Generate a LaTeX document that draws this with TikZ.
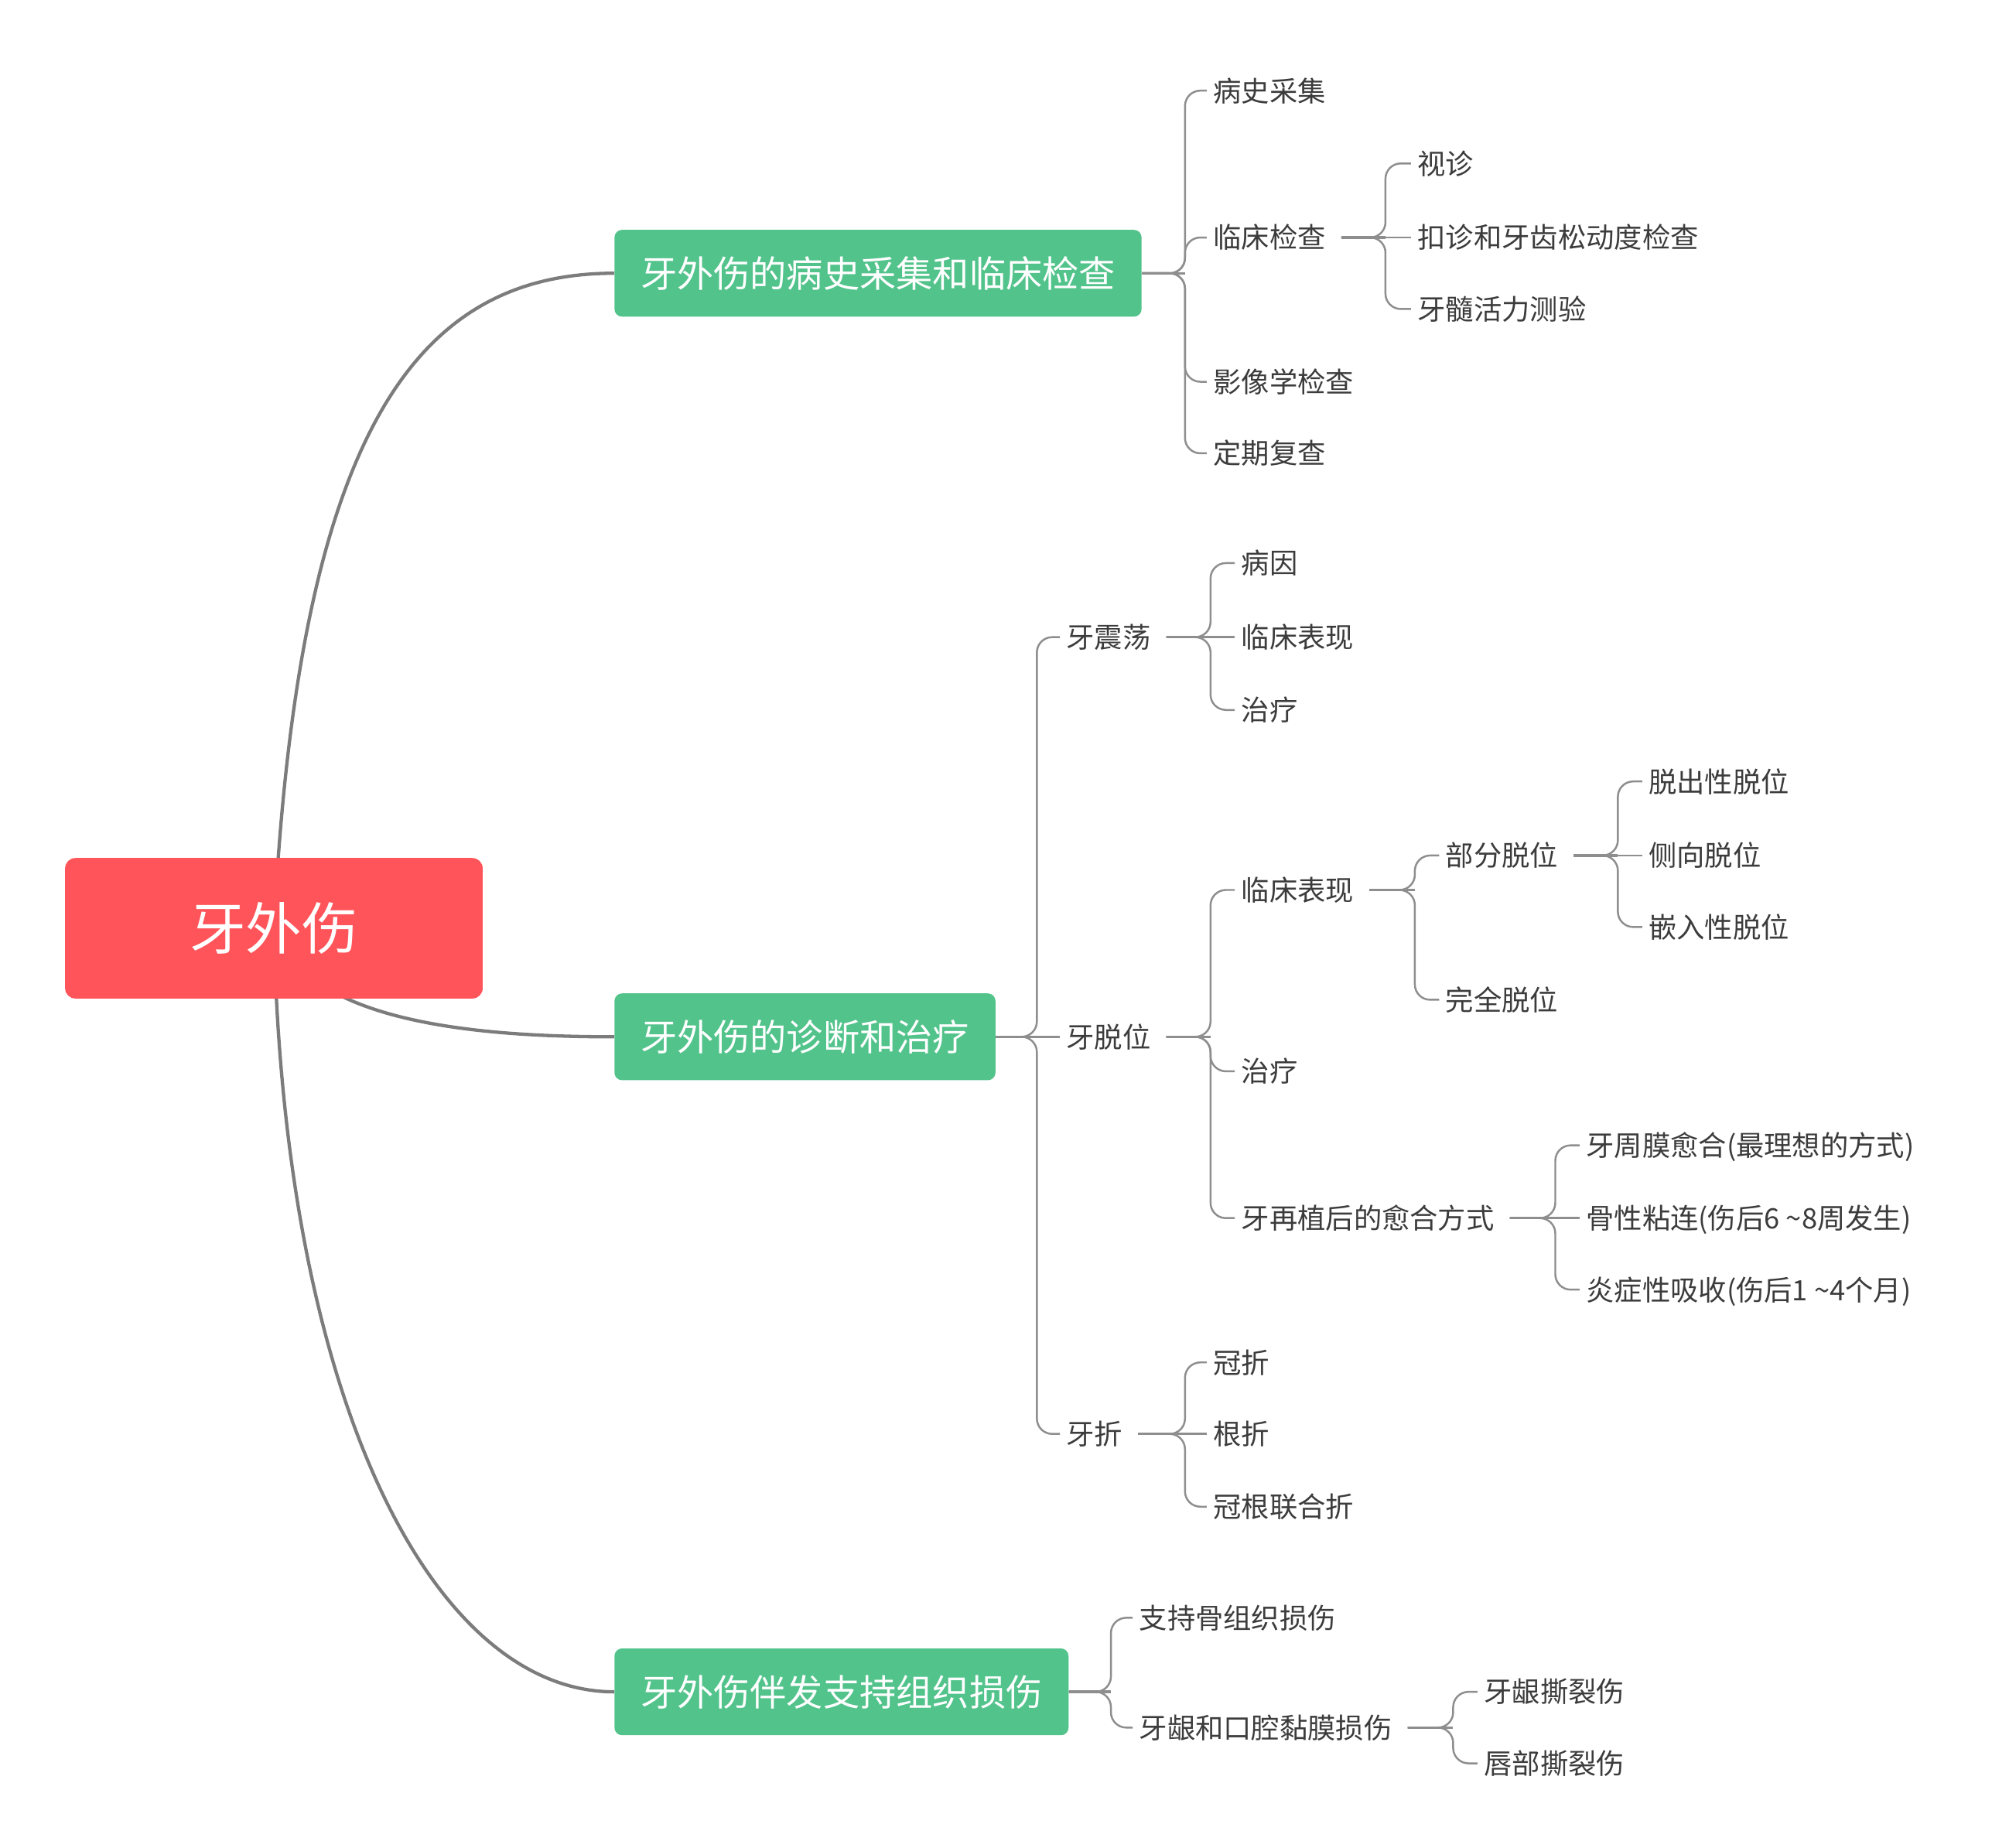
\documentclass[tikz,border=0pt]{standalone}
\usepackage{fontspec}
\setmainfont{Noto Sans CJK SC}
\usetikzlibrary{backgrounds}
\definecolor{redfill}{HTML}{FF545A}
\definecolor{greenfill}{HTML}{52C38B}
\definecolor{txtc}{HTML}{3C3C3C}
\definecolor{mainline}{HTML}{7C7C7C}
\definecolor{linkline}{HTML}{8E8E8E}
\tikzset{
  txt/.style={font=\fontsize{22}{26}\selectfont, text=txtc, inner xsep=5pt, inner ysep=0pt,
    anchor=west, text height=19.4pt, text depth=2.6pt},
  gbox/.style={fill=greenfill, rounded corners=6pt, text=white, font=\fontsize{28.6}{32}\selectfont,
    inner xsep=20.5pt, inner ysep=0pt, minimum height=68pt, anchor=west, text height=25.2pt, text depth=3.4pt},
  rootbox/.style={fill=redfill, rounded corners=8pt, text=white, font=\fontsize{44}{50}\selectfont,
    minimum width=327pt, minimum height=110pt, inner sep=0pt, text height=38.7pt, text depth=5.3pt},
  mainln/.style={draw=mainline, line width=2.6pt},
  stubln/.style={draw=linkline, line width=2pt},
  linkln/.style={draw=linkline, line width=1.5pt, rounded corners=12pt},
}
% optional first argument: gap (pt) between the parent node and the start of its connector
\newcommand\mmstub[3][0]{\draw[stubln] ([xshift=#1pt]#2.east) -- (#3,0 |- #2.east);}
\newcommand\mmkid[4][0]{\draw[linkln] ([xshift=#1pt]#2.east) -- (#3,0 |- #2.east) |- (#4.west);}
\newcommand\mmstraight[3][0]{\draw[linkln] ([xshift=#1pt]#2.east) -- (#3.west);}
\begin{document}
\begin{tikzpicture}[x=1pt,y=-1pt]
\useasboundingbox (0,0) rectangle (1560,1447);

% root and main branches
\node[rootbox] (root) at (214.5,727) {牙外伤};
\node[gbox] (g1) at (481,214) {牙外伤的病史采集和临床检查};
\node[gbox] (g2) at (481,812) {牙外伤的诊断和治疗};
\node[gbox] (g3) at (481,1325) {牙外伤伴发支持组织损伤};

% branch 1
\node[txt] (a1) at (945,71) {病史采集};
\node[txt] (a2) at (945,186) {临床检查};
\node[txt] (a3) at (945,299) {影像学检查};
\node[txt] (a4) at (945,355) {定期复查};
\node[txt] (a21) at (1105,128) {视诊};
\node[txt] (a22) at (1105,186) {扣诊和牙齿松动度检查};
\node[txt] (a23) at (1105,242) {牙髓活力测验};

% branch 2
\node[txt] (b1) at (830,499) {牙震荡};
\node[txt] (b2) at (830,812) {牙脱位};
\node[txt] (b3) at (830,1123) {牙折};
\node[txt] (b11) at (967,441) {病因};
\node[txt] (b12) at (967,499) {临床表现};
\node[txt] (b13) at (967,556) {治疗};
\node[txt] (b21) at (967,697) {临床表现};
\node[txt] (b22) at (967,839) {治疗};
\node[txt] (b23) at (967,954) {牙再植后的愈合方式};
\node[txt] (b211) at (1127,670) {部分脱位};
\node[txt] (b212) at (1127,783) {完全脱位};
\node[txt] (b2111) at (1286,612) {脱出性脱位};
\node[txt] (b2112) at (1286,670) {侧向脱位};
\node[txt] (b2113) at (1286,726) {嵌入性脱位};
\node[txt] (b231) at (1237,897) {牙周膜愈合(最理想的方式)};
\node[txt] (b232) at (1237,954) {骨性粘连(伤后6 \textasciitilde8周发生)};
\node[txt] (b233) at (1237,1010) {炎症性吸收(伤后1 \textasciitilde4个月)};
\node[txt] (b31) at (945,1067) {冠折};
\node[txt] (b32) at (945,1123) {根折};
\node[txt] (b33) at (945,1180) {冠根联合折};

% branch 3
\node[txt] (c1) at (887,1267) {支持骨组织损伤};
\node[txt] (c2) at (887,1353) {牙龈和口腔黏膜损伤};
\node[txt] (c21) at (1157,1325) {牙龈撕裂伤};
\node[txt] (c22) at (1157,1381) {唇部撕裂伤};

\begin{scope}[on background layer]
  \fill[white] (0,0) rectangle (1560,1447);
  \draw[mainln] (root.center) .. controls (234,340) and (325,214) .. (g1.west);
  \draw[mainln] (root.center) .. controls (240,800) and (370,812) .. (g2.west);
  \draw[mainln] (root.center) .. controls (222,1100) and (340,1325) .. (g3.west);

  % g1
  \mmstub{g1}{928}
  \mmkid{g1}{928}{a1} \mmkid{g1}{928}{a2} \mmkid{g1}{928}{a3} \mmkid{g1}{928}{a4}
  \mmstub[7]{a2}{1085}
  \mmkid[7]{a2}{1085}{a21} \mmstraight[7]{a2}{a22} \mmkid[7]{a2}{1085}{a23}

  % g2
  \mmstub{g2}{812}
  \mmkid{g2}{812}{b1} \mmstraight{g2}{b2} \mmkid{g2}{812}{b3}
  \mmstub[7]{b1}{948}
  \mmkid[7]{b1}{948}{b11} \mmstraight[7]{b1}{b12} \mmkid[7]{b1}{948}{b13}
  \mmstub[7]{b2}{948}
  \mmkid[7]{b2}{948}{b21} \mmkid[7]{b2}{948}{b22} \mmkid[7]{b2}{948}{b23}
  \mmstub[7]{b21}{1108}
  \mmkid[7]{b21}{1108}{b211} \mmkid[7]{b21}{1108}{b212}
  \mmstub[7]{b211}{1267}
  \mmkid[7]{b211}{1267}{b2111} \mmstraight[7]{b211}{b2112} \mmkid[7]{b211}{1267}{b2113}
  \mmstub[7]{b23}{1218}
  \mmkid[7]{b23}{1218}{b231} \mmstraight[7]{b23}{b232} \mmkid[7]{b23}{1218}{b233}
  \mmstub[7]{b3}{928}
  \mmkid[7]{b3}{928}{b31} \mmstraight[7]{b3}{b32} \mmkid[7]{b3}{928}{b33}

  % g3
  \mmstub{g3}{870}
  \mmkid{g3}{870}{c1} \mmkid{g3}{870}{c2}
  \mmstub[7]{c2}{1138}
  \mmkid[7]{c2}{1138}{c21} \mmkid[7]{c2}{1138}{c22}
\end{scope}
\end{tikzpicture}
\end{document}
